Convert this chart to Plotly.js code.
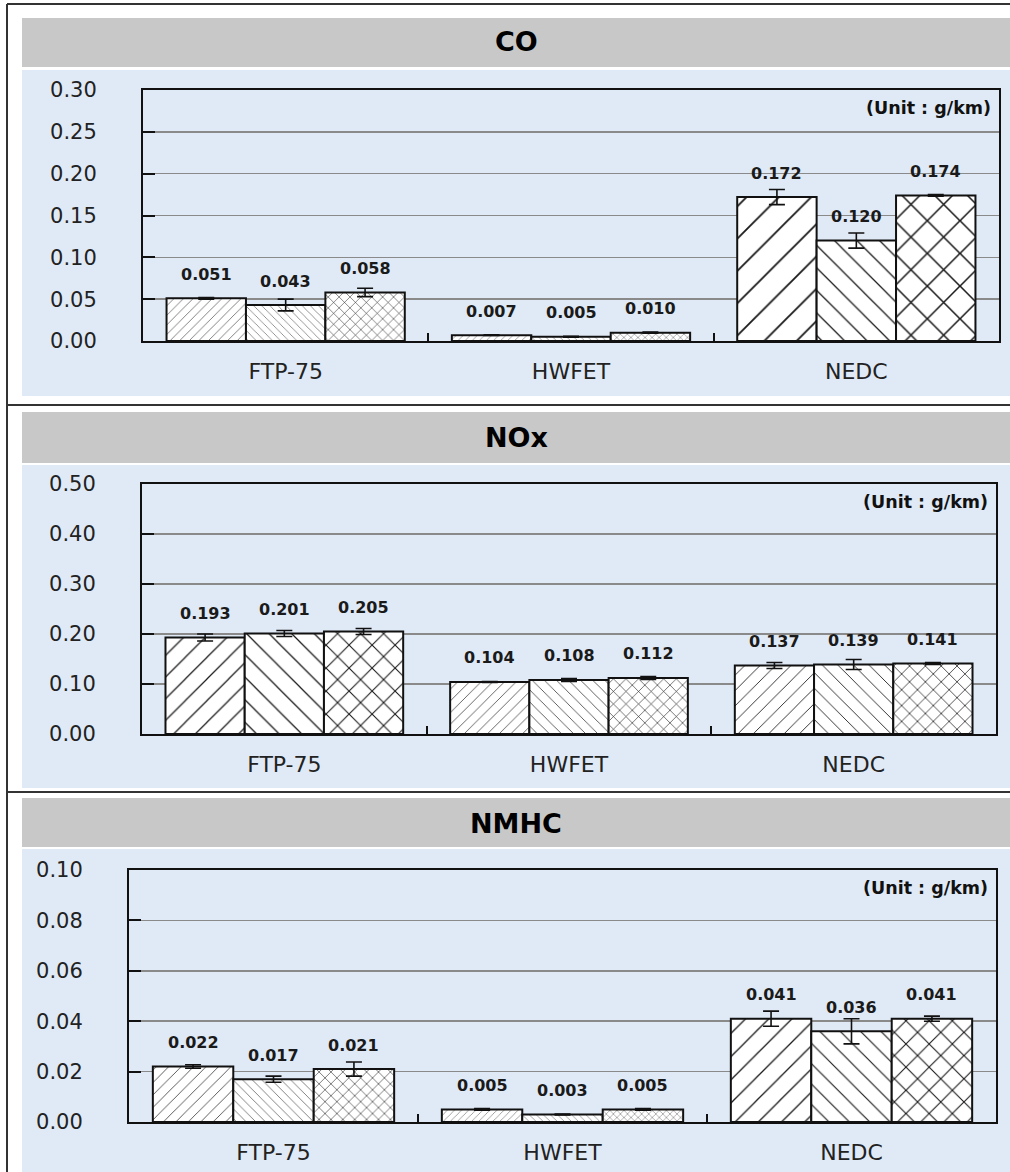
<!DOCTYPE html>
<html>
<head>
<meta charset="utf-8">
<script src="https://cdn.plot.ly/plotly-3.0.1.min.js"></script>
<style>
  html, body { margin: 0; padding: 0; background: #ffffff; }
  #chart { width: 1010px; height: 1172px; }
</style>
</head>
<body>
<div id="chart"></div>
<script>
// ---------------- DATA ----------------
const cycles = ['FTP-75', 'HWFET', 'NEDC'];
const panelTitles = ['CO', 'NOx', 'NMHC'];
const unitLabel = '(Unit : g/km)';

// CO (g/km)
const coA = [0.051, 0.007, 0.172];
const coB = [0.043, 0.005, 0.120];
const coC = [0.058, 0.010, 0.174];
const coErrA = [0.001, 0.0005, 0.009];
const coErrB = [0.007, 0.0005, 0.009];
const coErrC = [0.005, 0.0006, 0.001];

// NOx (g/km)
const noxA = [0.193, 0.104, 0.137];
const noxB = [0.201, 0.108, 0.139];
const noxC = [0.205, 0.112, 0.141];
const noxErrA = [0.007, 0.001, 0.006];
const noxErrB = [0.006, 0.003, 0.010];
const noxErrC = [0.006, 0.003, 0.002];

// NMHC (g/km)
const nmhcA = [0.022, 0.005, 0.041];
const nmhcB = [0.017, 0.003, 0.036];
const nmhcC = [0.021, 0.005, 0.041];
const nmhcErrA = [0.0007, 0.0003, 0.003];
const nmhcErrB = [0.0012, 0.0002, 0.005];
const nmhcErrC = [0.0028, 0.0003, 0.001];

const yRanges = [[0, 0.30], [0, 0.50], [0, 0.10]];
const yDticks = [0.05, 0.10, 0.02];

// ---------------- LAYOUT HELPERS ----------------
const W = 1010, H = 1172;
const px = v => v / W;
const py = v => 1 - v / H;

const panels = [
  { means: [coA, coB, coC], errs: [coErrA, coErrB, coErrC],
    x: [143, 999], y: [90, 341], header: [18, 67], blue: [70, 396], titleY: 42 },
  { means: [noxA, noxB, noxC], errs: [noxErrA, noxErrB, noxErrC],
    x: [142, 996], y: [484, 734], header: [412, 463], blue: [465, 788], titleY: 437 },
  { means: [nmhcA, nmhcB, nmhcC], errs: [nmhcErrA, nmhcErrB, nmhcErrC],
    x: [129, 996], y: [870, 1122], header: [798, 847], blue: [849, 1172], titleY: 823 }
];

const shapesPattern = ['/', '\\', 'x'];
const patSolidity = [0.08, 0.08, 0.13];
const BARGAP = 0.165;
const barW = (1 - BARGAP) / 3;
const FONT = 'DejaVu Sans, Verdana, sans-serif';

const traces = [];
const annotations = [];
const shapes = [];
const layout = {
  width: W, height: H,
  margin: { l: 0, r: 0, t: 0, b: 0 },
  paper_bgcolor: '#ffffff',
  plot_bgcolor: 'rgba(0,0,0,0)',
  barmode: 'group',
  bargap: BARGAP,
  bargroupgap: 0,
  showlegend: false,
  font: { family: FONT, color: '#222' }
};

panels.forEach((p, pi) => {
  const sfx = pi === 0 ? '' : String(pi + 1);
  const xa = 'x' + sfx, ya = 'y' + sfx;
  const pxPerUnit = (p.y[1] - p.y[0]) / (yRanges[pi][1] - yRanges[pi][0]);

  p.means.forEach((vals, si) => {
    const patSizes = vals.map(v => Math.max(5, Math.min(26, v * pxPerUnit / 6.3)));
    traces.push({
      type: 'bar',
      x: cycles,
      y: vals,
      xaxis: xa, yaxis: ya,
      marker: {
        color: '#ffffff',
        line: { color: '#111', width: 2 },
        pattern: { shape: shapesPattern[si], fgcolor: '#1a1a1a', bgcolor: '#ffffff',
                   size: patSizes, solidity: patSolidity[si], fillmode: 'replace' }
      },
      error_y: { type: 'data', array: p.errs[si], visible: true,
                 color: '#111', thickness: 1.6, width: 8 },
      hoverinfo: 'skip'
    });
    vals.forEach((v, gi) => {
      annotations.push({
        xref: xa, yref: ya,
        x: gi + (si - 1) * barW, y: v,
        text: v.toFixed(3), showarrow: false,
        yshift: 24, xanchor: 'center', yanchor: 'middle',
        font: { family: FONT, size: 16, color: '#1a1a1a', weight: 'bold' }
      });
    });
  });

  layout['xaxis' + sfx] = {
    domain: [px(p.x[0]), px(p.x[1])],
    anchor: ya,
    type: 'category',
    showline: true, linecolor: '#111', linewidth: 2, mirror: true,
    ticks: 'inside', tickson: 'boundaries', ticklen: 8, tickwidth: 2, tickcolor: '#111',
    showgrid: false, zeroline: false,
    tickfont: { family: FONT, size: 22, color: '#222' },
    ticklabelstandoff: 10,
    fixedrange: true
  };
  layout['yaxis' + sfx] = {
    domain: [py(p.y[1]), py(p.y[0])],
    anchor: xa,
    range: yRanges[pi],
    dtick: yDticks[pi], tick0: 0,
    tickformat: '.2f',
    showline: true, linecolor: '#111', linewidth: 2, mirror: true,
    ticks: 'inside', ticklen: 12, tickwidth: 2, tickcolor: '#111',
    showgrid: true, gridcolor: '#8a8a8a', gridwidth: 1.5,
    zeroline: false,
    tickfont: { family: FONT, size: 21, color: '#222' },
    ticklabelstandoff: 40,
    fixedrange: true
  };

  // decorative backgrounds
  shapes.push({ type: 'rect', xref: 'paper', yref: 'paper', layer: 'below',
    x0: px(22), x1: 1, y0: py(p.header[1]), y1: py(p.header[0]),
    fillcolor: '#c8c8c8', line: { width: 0 } });
  shapes.push({ type: 'rect', xref: 'paper', yref: 'paper', layer: 'below',
    x0: px(22), x1: 1, y0: py(p.blue[1]), y1: py(p.blue[0]),
    fillcolor: '#e0eaf6', line: { width: 0 } });

  annotations.push({
    xref: 'paper', yref: 'paper', x: px(516), y: py(p.titleY),
    text: '<b>' + panelTitles[pi] + '</b>', showarrow: false,
    xanchor: 'center', yanchor: 'middle',
    font: { family: FONT, size: 27, color: '#000' }
  });
  annotations.push({
    xref: xa + ' domain', yref: ya + ' domain', x: 0.993, y: 0.975,
    text: '<b>' + unitLabel + '</b>', showarrow: false,
    xanchor: 'right', yanchor: 'top',
    font: { family: FONT, size: 17.5, color: '#111' }
  });
});

// table borders
const borderColor = '#333';
shapes.push({ type: 'line', xref: 'paper', yref: 'paper', x0: px(7), x1: px(7), y0: 0, y1: py(4),
  line: { color: borderColor, width: 2 } });
shapes.push({ type: 'line', xref: 'paper', yref: 'paper', x0: px(7), x1: 1, y0: py(4), y1: py(4),
  line: { color: borderColor, width: 2 } });
shapes.push({ type: 'line', xref: 'paper', yref: 'paper', x0: px(7), x1: 1, y0: py(405), y1: py(405),
  line: { color: borderColor, width: 2 } });
shapes.push({ type: 'line', xref: 'paper', yref: 'paper', x0: px(7), x1: 1, y0: py(792), y1: py(792),
  line: { color: borderColor, width: 2 } });

layout.shapes = shapes;
layout.annotations = annotations;

Plotly.newPlot('chart', traces, layout, { displayModeBar: false, staticPlot: true });
</script>
</body>
</html>
